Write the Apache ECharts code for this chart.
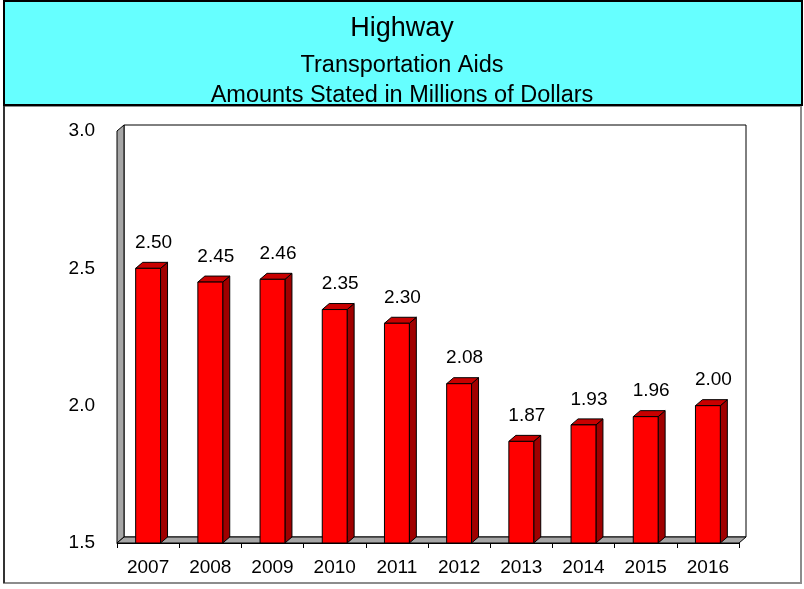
<!DOCTYPE html>
<html>
<head>
<meta charset="utf-8">
<script src="https://cdn.jsdelivr.net/npm/echarts@6/dist/echarts.min.js"></script>
<style>
  html, body { margin: 0; padding: 0; background: #fff; }
  #mainChart { width: 804px; height: 589px; }
</style>
</head>
<body>
<div id="mainChart"></div>
<script>
var years = ["2007", "2008", "2009", "2010", "2011", "2012", "2013", "2014", "2015", "2016"];
var amounts = [2.50, 2.45, 2.46, 2.35, 2.30, 2.08, 1.87, 1.93, 1.96, 2.00];
var yMin = 1.5, yMax = 3.0, yStep = 0.5;
var titleLines = ["Highway", "Transportation Aids", "Amounts Stated in Millions of Dollars"];

var FONT = "'Liberation Sans', Arial, sans-serif";
// depth of the fake 3d look
var DX = 7, DY = -6;

var chart = echarts.init(document.getElementById("mainChart"), null, { renderer: "canvas" });

// back wall, left wall and floor
function renderWalls(params, api) {
    var c = params.coordSys;
    var x = c.x, y = c.y, w = c.width, h = c.height;
    var st = { stroke: "#000", lineWidth: 1 };
    return {
        type: "group",
        children: [
            {
                type: "rect",
                shape: { x: x + DX, y: y + DY, width: w, height: h },
                style: { fill: "#fff", stroke: "#000", lineWidth: 1 }
            },
            {
                type: "polygon",
                shape: { points: [[x, y], [x + DX, y + DY], [x + DX, y + h + DY], [x, y + h]] },
                style: Object.assign({ fill: "#a6a6a6" }, st)
            },
            {
                type: "polygon",
                shape: { points: [[x, y + h], [x + DX, y + h + DY], [x + w + DX, y + h + DY], [x + w, y + h]] },
                style: Object.assign({ fill: "#a6a6a6" }, st)
            }
        ]
    };
}

function renderBar(params, api) {
    var idx = api.value(0);
    var val = api.value(1);
    var top = api.coord([idx, val]);
    var base = api.coord([idx, yMin]);
    var bw = api.size([1, 0])[0] * 0.4;
    var l = top[0] - bw / 2, r = top[0] + bw / 2;
    var t = top[1], b = base[1];
    var st = { stroke: "#000", lineWidth: 1 };
    return {
        type: "group",
        children: [
            {
                type: "polygon",
                shape: { points: [[r, t], [r + DX, t + DY], [r + DX, b + DY], [r, b]] },
                style: Object.assign({ fill: "#a00000" }, st)
            },
            {
                type: "polygon",
                shape: { points: [[l, t], [l + DX, t + DY], [r + DX, t + DY], [r, t]] },
                style: Object.assign({ fill: "#c80000" }, st)
            },
            {
                type: "rect",
                shape: { x: l, y: t, width: bw, height: b - t },
                style: Object.assign({ fill: "#ff0000" }, st)
            },
            {
                type: "text",
                style: {
                    x: top[0] + DX / 2 + 2,
                    y: t + DY - 10,
                    text: val.toFixed(2),
                    fill: "#000",
                    font: "19px " + FONT,
                    align: "center",
                    verticalAlign: "bottom"
                }
            }
        ]
    };
}

var option = {
    animation: false,
    backgroundColor: "#fff",
    graphic: [
        {
            type: "rect",
            z: -10,
            shape: { x: 4, y: 106, width: 797, height: 477 },
            style: { fill: "#fff", stroke: "#8c8c8c", lineWidth: 2 }
        },
        {
            type: "line",
            z: -9,
            shape: { x1: 4, y1: 106, x2: 4, y2: 583 },
            style: { stroke: "#333", lineWidth: 2 }
        },
        {
            type: "rect",
            z: -9,
            shape: { x: 4, y: 1, width: 798, height: 104 },
            style: { fill: "#66ffff", stroke: "#000", lineWidth: 2 }
        }
    ],
    title: [
        {
            text: titleLines[0], left: "center", top: 15, padding: 0,
            textStyle: { fontFamily: FONT, fontSize: 27, fontWeight: "normal", color: "#000" }
        },
        {
            text: titleLines[1], left: "center", top: 54, padding: 0,
            textStyle: { fontFamily: FONT, fontSize: 23.5, fontWeight: "normal", color: "#000" }
        },
        {
            text: titleLines[2], left: "center", top: 84, padding: 0,
            textStyle: { fontFamily: FONT, fontSize: 23.5, fontWeight: "normal", color: "#000" }
        }
    ],
    grid: { left: 117, top: 131, width: 622, height: 412, containLabel: false },
    xAxis: {
        type: "category",
        data: years,
        boundaryGap: true,
        axisLine: { show: true, lineStyle: { color: "#000", width: 1 } },
        axisTick: { show: true, length: 5, alignWithLabel: false, lineStyle: { color: "#000" } },
        axisLabel: { color: "#000", fontFamily: FONT, fontSize: 19, margin: 15 },
        splitLine: { show: false }
    },
    yAxis: {
        type: "value",
        min: yMin,
        max: yMax,
        interval: yStep,
        axisLine: { show: true, lineStyle: { color: "#000" } },
        axisTick: { show: false },
        axisLabel: {
            color: "#000", fontFamily: FONT, fontSize: 19, margin: 22,
            formatter: function (v) { return v.toFixed(1); }
        },
        splitLine: { show: false }
    },
    series: [
        {
            type: "custom",
            name: "walls",
            z: 1,
            silent: true,
            renderItem: renderWalls,
            data: [[0, yMin]]
        },
        {
            type: "custom",
            name: "Transportation Aids",
            z: 3,
            renderItem: renderBar,
            encode: { x: 0, y: 1 },
            data: amounts.map(function (v, i) { return [i, v]; })
        }
    ]
};

chart.setOption(option);
</script>
</body>
</html>
